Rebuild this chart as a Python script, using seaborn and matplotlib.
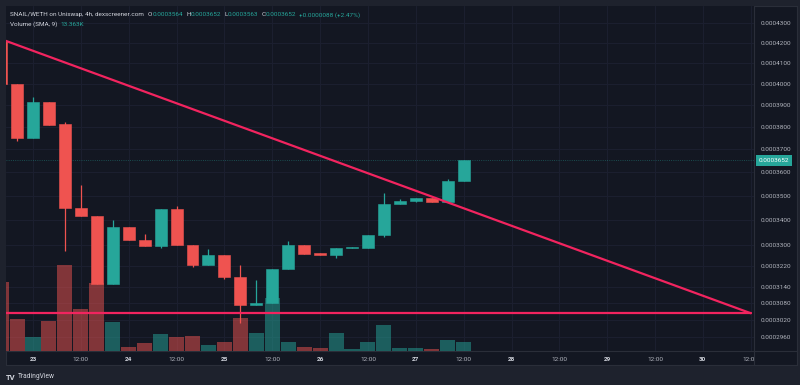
import pandas as pd
import numpy as np
import matplotlib
matplotlib.use('Agg')
import matplotlib.pyplot as plt
import matplotlib.dates as mdates
from matplotlib.lines import Line2D
from matplotlib.ticker import FixedLocator, NullLocator
from matplotlib.transforms import Bbox, TransformedBbox, blended_transform_factory
import seaborn as sns

# %%
# datos de las velas de 4h (SNAIL/WETH)
times = pd.date_range('2024-05-22 16:00', periods=30, freq='4h')
opens = [0.0004213, 0.0004000, 0.0003752, 0.0003914, 0.0003812, 0.0003450, 0.0003419, 0.0003152,
         0.0003374, 0.0003320, 0.0003299, 0.0003446, 0.0003300, 0.0003225, 0.0003264, 0.0003179,
         0.0003073, 0.0003080, 0.0003209, 0.0003300, 0.0003269, 0.0003262, 0.0003290, 0.0003291,
         0.0003341, 0.0003466, 0.0003478, 0.0003493, 0.0003476, 0.0003564]
highs = [0.0004213, 0.0004000, 0.0003940, 0.0003914, 0.0003823, 0.0003546, 0.0003419, 0.0003401,
         0.0003374, 0.0003346, 0.0003446, 0.0003459, 0.0003300, 0.0003285, 0.0003264, 0.0003224,
         0.0003167, 0.0003210, 0.0003316, 0.0003300, 0.0003269, 0.0003291, 0.0003293, 0.0003342,
         0.0003511, 0.0003487, 0.0003493, 0.0003493, 0.0003571, 0.0003652]
lows = [0.0004000, 0.0003739, 0.0003752, 0.0003809, 0.0003279, 0.0003419, 0.0003152, 0.0003152,
        0.0003320, 0.0003299, 0.0003289, 0.0003300, 0.0003215, 0.0003225, 0.0003170, 0.0003009,
        0.0003073, 0.0003080, 0.0003209, 0.0003268, 0.0003262, 0.0003252, 0.0003290, 0.0003291,
        0.0003334, 0.0003466, 0.0003476, 0.0003476, 0.0003476, 0.0003563]
closes = [0.0004000, 0.0003752, 0.0003914, 0.0003809, 0.0003450, 0.0003419, 0.0003152, 0.0003374,
          0.0003320, 0.0003299, 0.0003446, 0.0003300, 0.0003225, 0.0003264, 0.0003179, 0.0003074,
          0.0003081, 0.0003210, 0.0003300, 0.0003268, 0.0003262, 0.0003291, 0.0003293, 0.0003342,
          0.0003466, 0.0003479, 0.0003493, 0.0003476, 0.0003564, 0.0003652]
volumes_k = [100.0, 46.6, 19.8, 42.9, 124.1, 60.2, 97.7, 42.3, 6.2, 11.1, 24.1, 19.8, 21.6, 8.7, 13.4,
             48.1, 25.5, 76.9, 13.0, 5.3, 4.8, 26.0, 2.9, 13.4, 37.1, 4.8, 3.9, 2.9, 16.3, 13.0]

price_ticks = [0.00043, 0.00042, 0.00041, 0.00040, 0.00039, 0.00038, 0.00037, 0.00036, 0.00035,
               0.00034, 0.00033, 0.000322, 0.000314, 0.000308, 0.000302, 0.000296]
last_price = 0.0003652

# lineas del triangulo dibujadas a mano
trend_times = pd.to_datetime(['2024-05-22 16:00', '2024-05-30 12:00'])
upper_line = [0.0004220, 0.0003044]
lower_line = [0.0003044, 0.0003044]

# %%
sns.set_theme(style='dark')
plt.rcParams['font.family'] = ['Roboto', 'DejaVu Sans']

BG_OUT = '#1e222d'
BG = '#131722'
BORDER = '#2a2e39'
GRID = '#1c2030'
UP = '#26a69a'
DOWN = '#ef5350'
TXT = '#d1d4dc'
AX_TXT = '#b2b5be'
PINK = '#f2245f'
W, H = 800, 385

fig = plt.figure(figsize=(8, 3.85), dpi=100, facecolor=BG_OUT)

bg_ax = fig.add_axes([6 / W, 20 / H, 791 / W, 359 / H], zorder=0)
bg_ax.set_facecolor(BG)
bg_ax.set_xticks([])
bg_ax.set_yticks([])
for s in bg_ax.spines.values():
    s.set_color(BORDER)
    s.set_linewidth(0.8)

ax = fig.add_axes([6 / W, 34 / H, 748 / W, 345 / H], zorder=1)
ax.set_facecolor(BG)

x = mdates.date2num(times)
up = np.array(closes) >= np.array(opens)
colors = [UP if u else DOWN for u in up]

# mechas y cuerpos
ax.vlines(x, lows, highs, colors=colors, linewidth=0.9, zorder=2)
bottoms = np.minimum(opens, closes)
heights = np.abs(np.array(closes) - np.array(opens))
ax.bar(x, heights, bottom=bottoms, width=0.125, color=colors, edgecolor=colors,
       linewidth=0.4, zorder=3)

ax.set_yscale('log')
ax.set_ylim(0.000291, 0.000439)

base = mdates.date2num(pd.Timestamp('2024-05-23'))
xlim = (base - 27 / 95.7, base + 721 / 95.7)
ax.set_xlim(xlim)

ax.grid(True, color=GRID, linewidth=0.7)
for s in ax.spines.values():
    s.set_visible(False)

# linea del ultimo precio
ax.axhline(last_price, color=UP, linewidth=0.6, linestyle=':', alpha=0.5, zorder=1)
ax.text(1.0 + 5 / 748, last_price, '0.0003652',
        transform=blended_transform_factory(ax.transAxes, ax.transData),
        ha='left', va='center', fontsize=4.6, color='white', clip_on=False, zorder=5,
        bbox=dict(boxstyle='square,pad=0.45', fc=UP, ec='none'))

# volumen
axv = ax.twinx()
axv.set_zorder(2)
axv.patch.set_visible(False)
vcolors = [(0.149, 0.651, 0.604, 0.5) if u else (0.937, 0.325, 0.314, 0.5) for u in up]
axv.bar(x, volumes_k, width=0.157, color=vcolors, linewidth=0)
axv.set_ylim(0, 345 * 1.443)
axv.set_yticks([])
axv.grid(False)
for s in axv.spines.values():
    s.set_visible(False)

# triangulo
axl = ax.twinx()
axl.set_zorder(3)
axl.patch.set_visible(False)
axl.set_yscale('log')
axl.set_ylim(ax.get_ylim())
axl.set_yticks([])
axl.yaxis.set_minor_locator(NullLocator())
axl.grid(False)
for s in axl.spines.values():
    s.set_visible(False)
tl = pd.DataFrame({'t': mdates.date2num(trend_times), 'up': upper_line, 'lo': lower_line})
sns.lineplot(data=tl, x='t', y='up', ax=axl, color=PINK, linewidth=1.6)
sns.lineplot(data=tl, x='t', y='lo', ax=axl, color=PINK, linewidth=1.6)
axl.set_xlabel('')
axl.set_ylabel('')
ax.set_xlim(xlim)

# ejes de precio (a la derecha) y de tiempo, despues de twinx
ax.yaxis.set_major_locator(FixedLocator(price_ticks))
ax.yaxis.set_minor_locator(NullLocator())
ax.set_yticklabels([f'{p:.7f}' for p in price_ticks])
ax.yaxis.tick_right()
ax.tick_params(axis='y', which='both', left=False, right=True, labelleft=False, labelright=True,
               length=0, pad=5, labelsize=4.6, labelcolor=AX_TXT)

xt = pd.date_range('2024-05-23', '2024-05-30 12:00', freq='12h')
ax.set_xticks(mdates.date2num(xt))
ax.set_xticklabels([str(t.day) if t.hour == 0 else '12:00' for t in xt])
ax.tick_params(axis='x', length=0, pad=4, labelsize=4.6, labelcolor=AX_TXT)
clip = TransformedBbox(Bbox([[0, 0], [754 / W, 1]]), fig.transFigure)
for t, lab in zip(xt, ax.get_xticklabels()):
    if t.hour == 0:
        lab.set_color(TXT)
        lab.set_fontweight('bold')
    lab.set_clip_box(clip)
    lab.set_clip_on(True)

# separadores de ejes
fig.add_artist(Line2D([6 / W, 797 / W], [1 - 351 / H, 1 - 351 / H], color=BORDER, linewidth=0.8))
fig.add_artist(Line2D([754 / W, 754 / W], [1 - 6 / H, 1 - 365 / H], color=BORDER, linewidth=0.8))

# leyenda superior
renderer = fig.canvas.get_renderer()


def fila(pieces, x0, y0, size=4.6):
    xp = x0
    for txt, col, gap in pieces:
        t = fig.text(xp / W, 1 - y0 / H, txt, color=col, fontsize=size, ha='left', va='center', zorder=10)
        bb = t.get_window_extent(renderer)
        xp = bb.x1 + gap


fila([('SNAIL/WETH on Uniswap, 4h, dexscreener.com', TXT, 4),
      ('O', TXT, 0.3), ('0.0003564', UP, 3),
      ('H', TXT, 0.3), ('0.0003652', UP, 3),
      ('L', TXT, 0.3), ('0.0003563', UP, 3),
      ('C', TXT, 0.3), ('0.0003652', UP, 3),
      ('+0.0000088 (+2.47%)', UP, 0)], 10, 14.7)
fila([('Volume (SMA, 9)', TXT, 3.5), ('13.363K', UP, 0)], 10, 24.3)

fig.text(6 / W, 1 - 377 / H, 'TV', color=TXT, fontsize=5.5, fontweight='bold', ha='left', va='center')
fig.text(18 / W, 1 - 377 / H, 'TradingView', color=TXT, fontsize=4.8, ha='left', va='center')

fig.savefig('out.png', dpi=100, facecolor=BG_OUT)
